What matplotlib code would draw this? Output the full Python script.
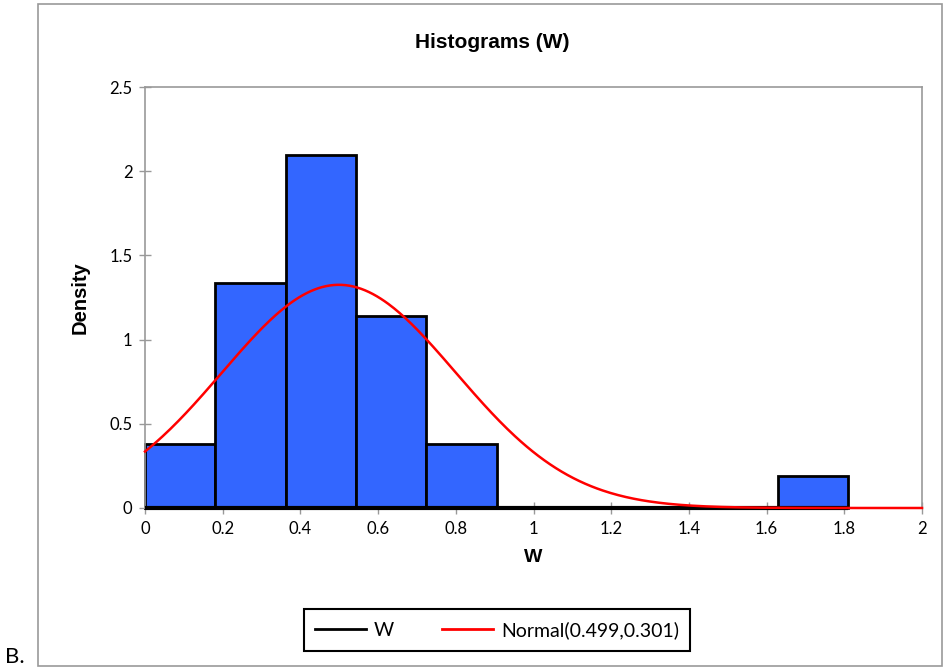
import numpy as np
import matplotlib.pyplot as plt
from matplotlib.lines import Line2D
from matplotlib.patches import Rectangle

# histogram bins (left edges) and densities
bin_left = [0.0, 0.181, 0.362, 0.543, 0.724, 0.905, 1.086, 1.267, 1.448, 1.629]
bin_width = 0.181
density = [0.383, 1.335, 2.097, 1.143, 0.383, 0.0, 0.0, 0.0, 0.0, 0.19]

mu, sigma = 0.499, 0.301
xticks = [0, 0.2, 0.4, 0.6, 0.8, 1, 1.2, 1.4, 1.6, 1.8, 2]
yticks = [0, 0.5, 1, 1.5, 2, 2.5]

fig = plt.figure(figsize=(9.44, 6.72), dpi=100)
ax = fig.add_axes([145/944, 1-508/672, (922-145)/944, (508-87)/672])

bars = ax.bar(bin_left, density, width=bin_width, align='edge', color='#3366ff',
              edgecolor='black', linewidth=2, zorder=2)
for b in bars:
    b.set_clip_on(False)
# baseline of the histogram (empty bins show as a black line)
ax.hlines(0, bin_left[0], bin_left[-1] + bin_width, color='black', lw=3,
          zorder=2.8, clip_on=False)

xs = np.linspace(0, 2, 400)
pdf = np.exp(-0.5*((xs-mu)/sigma)**2) / (sigma*np.sqrt(2*np.pi))
ax.plot(xs, pdf, color='red', lw=1.8, zorder=3, clip_on=False)

ax.set_xlim(0, 2)
ax.set_ylim(0, 2.5)
ax.set_xticks(xticks)
ax.set_xticklabels([f'{t:g}' for t in xticks])
ax.set_yticks(yticks)
ax.set_yticklabels([f'{t:g}' for t in yticks])
for s in ax.spines.values():
    s.set_color('#999999')
    s.set_linewidth(1.2)
ax.tick_params(direction='inout', length=8, color='#999999', width=1,
               labelsize=12, pad=5)
for lab in ax.get_xticklabels() + ax.get_yticklabels():
    lab.set_family('Lato')

ax.set_xlabel('W', fontsize=14, fontweight='bold', family='Liberation Sans', labelpad=9)
ax.set_ylabel('Density', fontsize=14.5, fontweight='bold', family='Liberation Sans', labelpad=14)

fig.text(492/944, 1-42/672, 'Histograms (W)', ha='center', va='center',
         fontsize=15, fontweight='bold', family='Liberation Sans')

# outer chart frame
fig.patches.append(Rectangle((38/944, 1-666/672), (942-38)/944, (666-4)/672,
                             transform=fig.transFigure, fill=False,
                             edgecolor='#999999', lw=1.2))

handles = [Line2D([], [], color='black', lw=2),
           Line2D([], [], color='red', lw=2)]
leg = fig.legend(handles, ['W', 'Normal(0.499,0.301)'], loc='center',
                 bbox_to_anchor=(497/944, 1-630/672), ncol=2, fancybox=False,
                 framealpha=1, edgecolor='black', handlelength=2.6,
                 handletextpad=0.4, columnspacing=2.5, borderpad=0.6,
                 prop={'family': 'Lato', 'size': 14})
leg.get_frame().set_linewidth(1.5)

fig.text(5/944, 1-657/672, 'B.', ha='left', va='center', fontsize=16, family='Lato')

fig.savefig('out.png', dpi=100)
